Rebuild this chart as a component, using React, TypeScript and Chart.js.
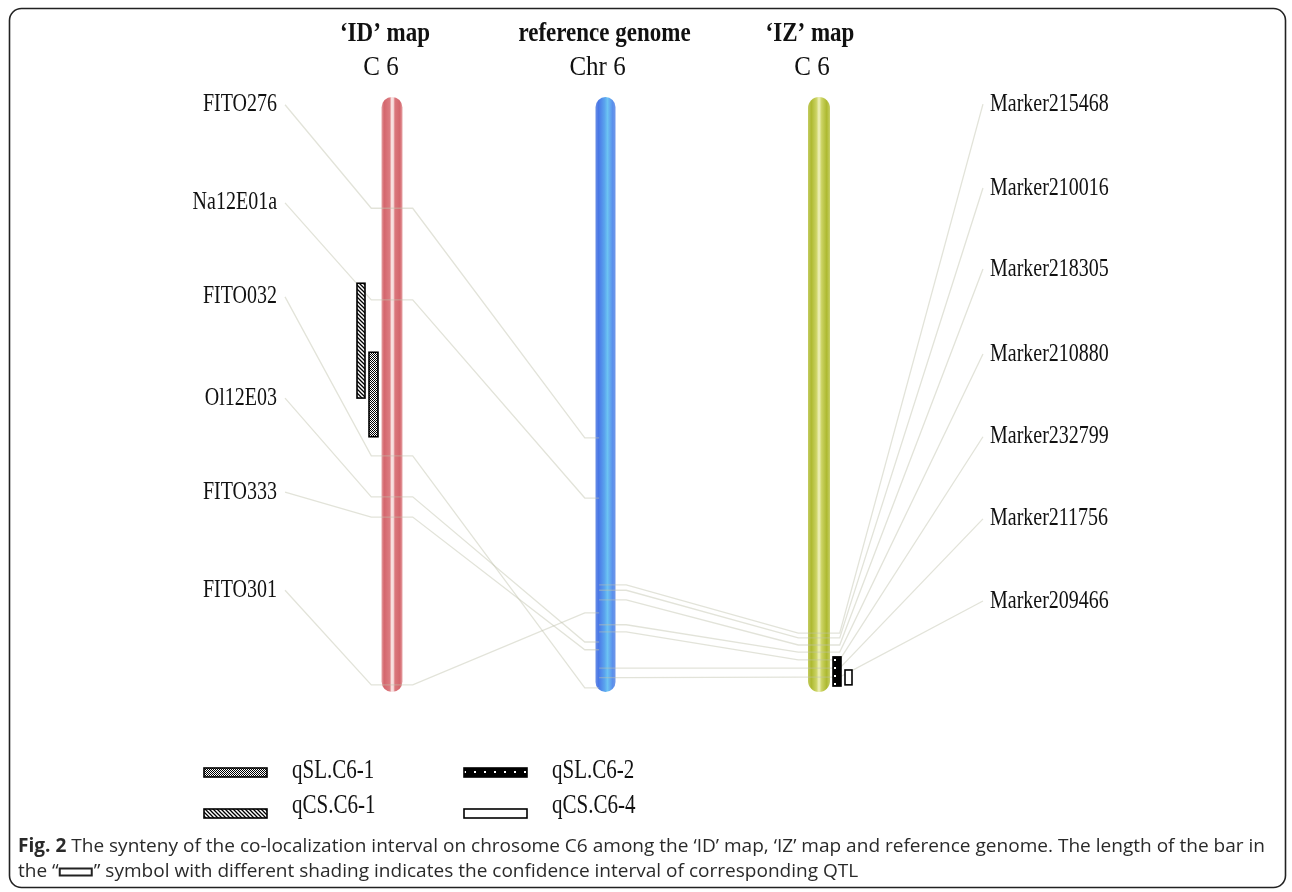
import React, { useEffect, useRef } from 'react';
import { Chart, registerables } from 'chart.js';
Chart.register(...registerables);

// ---------- data ----------
const TRACK_TITLES = ['‘ID’ map', 'reference genome', '‘IZ’ map'];
const TRACK_SUBTITLES = ['C 6', 'Chr 6', 'C 6'];

// positions in % of chromosome length (0 = top, 100 = bottom)
const ID_MARKERS = ['FITO276', 'Na12E01a', 'FITO032', 'Ol12E03', 'FITO333', 'FITO301'];
const ID_LABEL_POS = [1.3, 17.8, 33.6, 50.6, 66.4, 82.9];
const ID_MAP_POS = [18.7, 34.1, 60.3, 67.2, 70.6, 98.8];
const ID_REF_POS = [57.3, 67.4, 99.3, 91.6, 92.9, 86.7];

const IZ_MARKERS = ['Marker215468', 'Marker210016', 'Marker218305', 'Marker210880', 'Marker232799', 'Marker211756', 'Marker209466'];
const IZ_LABEL_POS = [1.2, 15.3, 28.9, 43.2, 57.1, 70.9, 84.7];
const IZ_MAP_POS = [90.1, 90.9, 92.1, 93.3, 94.6, 96.0, 97.5];
const IZ_REF_POS = [82.0, 82.9, 84.5, 88.7, 89.9, 96.0, 97.6];

const QTL_NAMES = ['qSL.C6-1', 'qCS.C6-1', 'qSL.C6-2', 'qCS.C6-4'];
const QTL_TRACK = [0, 0, 2, 2];
const QTL_START = [42.9, 31.3, 94.1, 96.3];
const QTL_END = [57.1, 50.6, 99.0, 98.8];
const QTL_FILL = ['checker', 'hatch', 'dots', 'open'];

const CAPTION_BOLD = 'Fig. 2';
const CAPTION_1 = ' The synteny of the co-localization interval on chrosome C6 among the ‘ID’ map, ‘IZ’ map and reference genome. The length of the bar in';
const CAPTION_2A = 'the “';
const CAPTION_2B = '” symbol with different shading indicates the confidence interval of corresponding QTL';

// ---------- style / layout ----------
const W = 1292;
const H = 892;
const HALF = 0.097; // half span of the horizontal part of a link, in track units
const LEFT_LINK_X = -0.501;
const RIGHT_LINK_X = 2.768;
const PX_PER_TRACK = 213.5;
const TRACK0_PX = 392;
const SERIF = '"Liberation Serif", "Times New Roman", serif';
const SANS = '"Open Sans", "Noto Sans", sans-serif';
const STRETCH = 1.25;

const CHROM_STYLE = [
  { w: 21, stops: [[0, '#e6a3a5'], [0.12, '#d4666d'], [0.4, '#dc7c81'], [0.47, '#f8e0e0'], [0.56, '#f8e0e0'], [0.64, '#da767c'], [0.88, '#d4666d'], [1, '#e6a3a5']] },
  { w: 20, stops: [[0, '#6a8fe6'], [0.15, '#4a77e6'], [0.45, '#5aa3ee'], [0.6, '#6cc3f3'], [0.85, '#5a90ec'], [1, '#7197e8']] },
  { w: 22, stops: [[0, '#c4cc62'], [0.15, '#adb930'], [0.38, '#cbd363'], [0.5, '#f0f2bf'], [0.62, '#cbd363'], [0.85, '#adb930'], [1, '#c6ce66']] },
];
const QTL_STYLE = [
  { dx: -18.5, w: 9 },
  { dx: -31, w: 8 },
  { dx: 18, w: 8 },
  { dx: 29.5, w: 7 },
];

function makePattern(ctx: CanvasRenderingContext2D, kind: string): CanvasPattern | string {
  if (kind === 'open') return '#ffffff';
  const c = document.createElement('canvas');
  const g = c.getContext('2d')!;
  if (kind === 'checker') {
    c.width = 2; c.height = 2;
    g.fillStyle = '#fff'; g.fillRect(0, 0, 2, 2);
    g.fillStyle = '#000'; g.fillRect(0, 0, 1, 1); g.fillRect(1, 1, 1, 1);
  } else if (kind === 'hatch') {
    c.width = 4; c.height = 4;
    g.fillStyle = '#fff'; g.fillRect(0, 0, 4, 4);
    g.strokeStyle = '#000'; g.lineWidth = 1.3;
    g.beginPath();
    g.moveTo(-1, -1); g.lineTo(5, 5);
    g.moveTo(-1, 3); g.lineTo(1, 5);
    g.moveTo(3, -1); g.lineTo(5, 1);
    g.stroke();
  } else {
    c.width = 10; c.height = 8;
    g.fillStyle = '#000'; g.fillRect(0, 0, 10, 8);
    g.fillStyle = '#fff'; g.fillRect(4, 3, 2, 2);
  }
  return ctx.createPattern(c, 'repeat')!;
}

function text(ctx: CanvasRenderingContext2D, s: string, x: number, y: number, font: string, align: CanvasTextAlign, sy = STRETCH) {
  ctx.save();
  ctx.translate(x, y);
  ctx.scale(1, sy);
  ctx.font = font;
  ctx.textAlign = align;
  ctx.textBaseline = 'middle';
  ctx.fillStyle = '#111';
  ctx.fillText(s, 0, 0);
  ctx.restore();
}

const syntenyPlugin = {
  id: 'synteny',
  beforeDatasetsDraw(chart: any) {
    const ctx: CanvasRenderingContext2D = chart.ctx;
    const xs = chart.scales.x;
    const ys = chart.scales.y;
    ctx.save();
    ctx.strokeStyle = '#222';
    ctx.lineWidth = 1.6;
    ctx.beginPath();
    (ctx as any).roundRect(9.5, 8.5, 1276, 879, 12);
    ctx.stroke();
    const top = ys.getPixelForValue(0);
    const bottom = ys.getPixelForValue(100);
    CHROM_STYLE.forEach((st, t) => {
      const cx = xs.getPixelForValue(t);
      const g = ctx.createLinearGradient(cx - st.w / 2, 0, cx + st.w / 2, 0);
      st.stops.forEach(([o, c]) => g.addColorStop(o as number, c as string));
      ctx.fillStyle = g;
      ctx.beginPath();
      (ctx as any).roundRect(cx - st.w / 2, top, st.w, bottom - top, st.w / 2);
      ctx.fill();
    });
    ctx.restore();
  },
  afterDatasetsDraw(chart: any) {
    const ctx: CanvasRenderingContext2D = chart.ctx;
    const xs = chart.scales.x;
    const ys = chart.scales.y;
    ctx.save();
    QTL_NAMES.forEach((_, i) => {
      const cx = xs.getPixelForValue(QTL_TRACK[i]) + QTL_STYLE[i].dx;
      const y0 = ys.getPixelForValue(QTL_START[i]);
      const y1 = ys.getPixelForValue(QTL_END[i]);
      const w = QTL_STYLE[i].w;
      ctx.fillStyle = makePattern(ctx, QTL_FILL[i]) as any;
      ctx.fillRect(cx - w / 2, y0, w, y1 - y0);
      ctx.strokeStyle = '#000';
      ctx.lineWidth = 1.6;
      ctx.strokeRect(cx - w / 2, y0, w, y1 - y0);
    });
    const lx = xs.getPixelForValue(LEFT_LINK_X) - 8;
    ID_MARKERS.forEach((m, i) => text(ctx, m, lx, ys.getPixelForValue(ID_LABEL_POS[i]), `20px ${SERIF}`, 'right'));
    const rx = xs.getPixelForValue(RIGHT_LINK_X) + 7;
    IZ_MARKERS.forEach((m, i) => text(ctx, m, rx, ys.getPixelForValue(IZ_LABEL_POS[i]), `20px ${SERIF}`, 'left'));
    const titleDx = [-7, -1, -9];
    const subDx = [-11, -8, -7];
    TRACK_TITLES.forEach((t, i) => {
      const cx = xs.getPixelForValue(i);
      text(ctx, t, cx + titleDx[i], 34, `bold 23px ${SERIF}`, 'center', 1.15);
      text(ctx, TRACK_SUBTITLES[i], cx + subDx[i], 68, `25px ${SERIF}`, 'center', 1.1);
    });
    const legendOrder = [0, 2, 1, 3];
    legendOrder.forEach((qi, k) => {
      const col = k % 2;
      const row = Math.floor(k / 2);
      const sx = col === 0 ? 204 : 464;
      const sy = row === 0 ? 768 : 809;
      ctx.fillStyle = makePattern(ctx, QTL_FILL[qi]) as any;
      ctx.fillRect(sx, sy, 63, 9);
      ctx.strokeStyle = '#000';
      ctx.lineWidth = 1.6;
      ctx.strokeRect(sx, sy, 63, 9);
      text(ctx, QTL_NAMES[qi], sx + 88, row === 0 ? 771 : 806, `21px ${SERIF}`, 'left');
    });
    // caption
    const FS = 19;
    const regular = `${FS}px ${SANS}`;
    const bold = `bold ${FS}px ${SANS}`;
    ctx.font = bold;
    const wb = ctx.measureText(CAPTION_BOLD).width;
    ctx.font = regular;
    const w1 = ctx.measureText(CAPTION_1).width;
    const scaleX = (1265 - 18) / (wb + w1);
    ctx.fillStyle = '#2a2a2a';
    ctx.textBaseline = 'middle';
    ctx.textAlign = 'left';
    ctx.save();
    ctx.translate(18, 847);
    ctx.scale(scaleX, 1);
    ctx.font = bold;
    ctx.fillText(CAPTION_BOLD, 0, 0);
    ctx.font = regular;
    ctx.fillText(CAPTION_1, wb, 0);
    ctx.restore();
    ctx.font = regular;
    const w2a = ctx.measureText(CAPTION_2A).width * scaleX;
    ctx.save();
    ctx.translate(18, 872);
    ctx.scale(scaleX, 1);
    ctx.fillText(CAPTION_2A, 0, 0);
    ctx.restore();
    const bx = 18 + w2a + 1;
    ctx.strokeStyle = '#222';
    ctx.lineWidth = 2;
    ctx.strokeRect(bx, 868.5, 32, 7);
    ctx.save();
    ctx.translate(bx + 34, 872);
    ctx.scale(scaleX, 1);
    ctx.fillText(CAPTION_2B, 0, 0);
    ctx.restore();
    ctx.restore();
  },
};

const LINK_STYLE = {
  borderColor: 'rgba(190,192,170,0.45)',
  borderWidth: 1.3,
  pointRadius: 0,
  showLine: true,
  fill: false,
  clip: false as any,
  tension: 0,
};

function buildDatasets() {
  const sets: any[] = [];
  ID_MARKERS.forEach((m, i) => {
    sets.push({
      label: m,
      data: [
        { x: LEFT_LINK_X, y: ID_LABEL_POS[i] },
        { x: -HALF, y: ID_MAP_POS[i] },
        { x: HALF, y: ID_MAP_POS[i] },
        { x: 1 - HALF, y: ID_REF_POS[i] },
        { x: 1 - 0.03, y: ID_REF_POS[i] },
      ],
      ...LINK_STYLE,
    });
  });
  IZ_MARKERS.forEach((m, i) => {
    sets.push({
      label: m,
      data: [
        { x: 1 - 0.03, y: IZ_REF_POS[i] },
        { x: 1 + HALF, y: IZ_REF_POS[i] },
        { x: 2 - HALF, y: IZ_MAP_POS[i] },
        { x: 2 + HALF, y: IZ_MAP_POS[i] },
        { x: RIGHT_LINK_X, y: IZ_LABEL_POS[i] },
      ],
      ...LINK_STYLE,
    });
  });
  return sets;
}

export default function App() {
  const ref = useRef<HTMLCanvasElement | null>(null);
  useEffect(() => {
    if (!ref.current) return;
    const left = TRACK0_PX + LEFT_LINK_X * PX_PER_TRACK;
    const right = TRACK0_PX + RIGHT_LINK_X * PX_PER_TRACK;
    const chart = new Chart(ref.current, {
      type: 'scatter',
      data: { datasets: buildDatasets() },
      options: {
        animation: false,
        responsive: false,
        layout: { padding: { left, right: W - right, top: 97, bottom: H - 692 } },
        scales: {
          x: { type: 'linear', min: LEFT_LINK_X, max: RIGHT_LINK_X, display: false },
          y: { type: 'linear', min: 0, max: 100, reverse: true, display: false },
        },
        plugins: { legend: { display: false }, tooltip: { enabled: false } },
        events: [],
      },
      plugins: [syntenyPlugin],
    } as any);
    return () => chart.destroy();
  }, []);
  return (
    <div style={{ position: 'absolute', left: 0, top: 0, width: W, height: H, background: '#fff' }}>
      <canvas ref={ref} width={W} height={H} style={{ width: W, height: H, display: 'block' }} />
    </div>
  );
}
